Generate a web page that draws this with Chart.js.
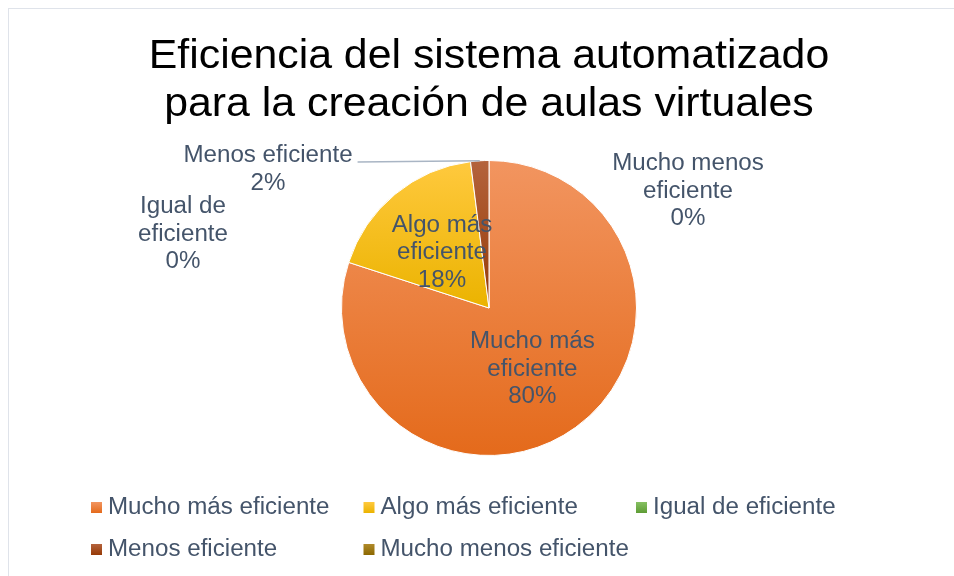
<!DOCTYPE html>
<html>
<head>
<meta charset="utf-8">
<script src="https://cdn.jsdelivr.net/npm/chart.js@4.4.1/dist/chart.umd.min.js"></script>
<style>
    html, body { margin: 0; padding: 0; background: #fff; overflow: hidden; }
    .wrap { position: relative; width: 954px; height: 576px; }
    .frame { position: absolute; left: 8px; top: 8px; width: 1000px; height: 1000px; border: 1px solid #dfe3ea; }
    canvas { position: absolute; left: 0; top: 0; }
</style>
</head>
<body>
<div class="wrap">
    <div class="frame"></div>
    <canvas id="pieChart" width="954" height="576"></canvas>
</div>
<script>
// Chart data
const titleLines = ['Eficiencia del sistema automatizado', 'para la creación de aulas virtuales'];
const categories = ['Mucho más eficiente', 'Algo más eficiente', 'Igual de eficiente', 'Menos eficiente', 'Mucho menos eficiente'];
const labelLines = [['Mucho más', 'eficiente'], ['Algo más', 'eficiente'], ['Igual de', 'eficiente'], ['Menos eficiente'], ['Mucho menos', 'eficiente']];
const percentages = [80, 18, 0, 2, 0];

// Gradient colours (light top, dark bottom) per slice
const colorTop = ['#f29560', '#ffc93e', '#86c062', '#b4633c', '#b08a2a'];
const colorBottom = ['#e46a1b', '#ebb300', '#5e9c35', '#963a07', '#8c6800'];

const textColor = '#44546a';
const fontFamily = '"Liberation Sans", Arial, sans-serif';
const stretch = 1.05;

// Outside labels (first baseline, relative to pie centre)
const outsideLabels = {
    2: { dx: -306, dy: -95 },
    3: { dx: -221, dy: -146, leader: true },
    4: { dx: 199, dy: -138 }
};

function pieGeometry(chart) {
    const a = chart.chartArea;
    const meta = chart.getDatasetMeta(0);
    const arc = meta.data[0];
    return {
        cx: (a.left + a.right) / 2,
        cy: (a.top + a.bottom) / 2,
        r: arc && arc.outerRadius ? arc.outerRadius : Math.min(a.right - a.left, a.bottom - a.top) / 2
    };
}

function sliceAngles(i) {
    const total = percentages.reduce((s, v) => s + v, 0);
    let before = 0;
    for (let k = 0; k < i; k++) before += percentages[k];
    const a0 = -Math.PI / 2 + before / total * Math.PI * 2;
    const a1 = a0 + percentages[i] / total * Math.PI * 2;
    return [a0, a1];
}

function sliceFill(context) {
    const chart = context.chart;
    const i = context.dataIndex;
    const a = chart.chartArea;
    if (!a) return colorTop[i];
    const cx = (a.left + a.right) / 2, cy = (a.top + a.bottom) / 2;
    const r = Math.min(a.right - a.left, a.bottom - a.top) / 2;
    const [a0, a1] = sliceAngles(i);
    let ymin = cy, ymax = cy;
    for (let s = 0; s <= 40; s++) {
        const y = cy + r * Math.sin(a0 + (a1 - a0) * s / 40);
        ymin = Math.min(ymin, y);
        ymax = Math.max(ymax, y);
    }
    if (ymax - ymin < 1) ymax = ymin + 1;
    const g = chart.ctx.createLinearGradient(0, ymin, 0, ymax);
    g.addColorStop(0, colorTop[i]);
    g.addColorStop(1, colorBottom[i]);
    return g;
}

function stretchedText(ctx, text, x, y, sx, align) {
    const w = ctx.measureText(text).width * sx;
    let left = x;
    if (align === 'center') left = x - w / 2;
    else if (align === 'right') left = x - w;
    ctx.save();
    ctx.translate(left, y);
    ctx.scale(sx, 1);
    ctx.textAlign = 'left';
    ctx.fillText(text, 0, 0);
    ctx.restore();
    return { left: left, right: left + w };
}

const excelText = {
    id: 'excelText',
    afterDatasetsDraw(chart) {
        const ctx = chart.ctx;
        const geo = pieGeometry(chart);
        const meta = chart.getDatasetMeta(0);
        ctx.save();
        ctx.textBaseline = 'alphabetic';

        // Title
        ctx.fillStyle = '#000';
        ctx.font = '40px ' + fontFamily;
        stretchedText(ctx, titleLines[0], geo.cx, 68, 1.07, 'center');
        stretchedText(ctx, titleLines[1], geo.cx, 116, 1.07, 'center');

        // Data labels
        ctx.font = '23px ' + fontFamily;
        ctx.fillStyle = textColor;
        const lh = 27.5;
        categories.forEach((cat, i) => {
            const lines = labelLines[i].concat([percentages[i] + '%']);
            const out = outsideLabels[i];
            let x, y0;
            if (out) {
                x = geo.cx + out.dx;
                y0 = geo.cy + out.dy;
            } else {
                const p = meta.data[i].tooltipPosition();
                x = p.x;
                y0 = p.y + 8 - lh * (lines.length - 1) / 2;
            }
            let firstBox = null;
            lines.forEach((t, k) => {
                const box = stretchedText(ctx, t, x, y0 + k * lh, stretch, 'center');
                if (k === 0) firstBox = box;
            });
            if (out && out.leader) {
                const [a0, a1] = sliceAngles(i);
                const am = (a0 + a1) / 2;
                ctx.strokeStyle = '#a9b5c4';
                ctx.lineWidth = 1.5;
                ctx.beginPath();
                ctx.moveTo(firstBox.right + 5, y0);
                ctx.lineTo(geo.cx + geo.r * Math.cos(am), geo.cy + geo.r * Math.sin(am));
                ctx.stroke();
            }
        });

        // Legend (3 columns)
        const colW = 272.5, legLeft = 91, rowY = [514, 556], box = 11;
        categories.forEach((cat, i) => {
            const col = i % 3, row = Math.floor(i / 3);
            const bx = legLeft + col * colW, by = rowY[row] - 12;
            const g = ctx.createLinearGradient(0, by, 0, by + box);
            g.addColorStop(0, colorTop[i]);
            g.addColorStop(1, colorBottom[i]);
            ctx.fillStyle = g;
            ctx.fillRect(bx, by, box, box);
            ctx.fillStyle = textColor;
            stretchedText(ctx, cat, bx + 17, rowY[row], stretch, 'left');
        });
        ctx.restore();
    }
};

const pieCtx = document.getElementById('pieChart').getContext('2d');
const pieChart = new Chart(pieCtx, {
    type: 'pie',
    data: {
        labels: categories,
        datasets: [{
            data: percentages,
            backgroundColor: sliceFill,
            borderColor: '#ffffff',
            borderWidth: 1
        }]
    },
    options: {
        responsive: false,
        animation: false,
        events: [],
        layout: {
            padding: { left: 341, right: 317, top: 160, bottom: 120 }
        },
        plugins: {
            legend: { display: false },
            title: { display: false },
            tooltip: { enabled: false }
        }
    },
    plugins: [excelText]
});
</script>
</body>
</html>
